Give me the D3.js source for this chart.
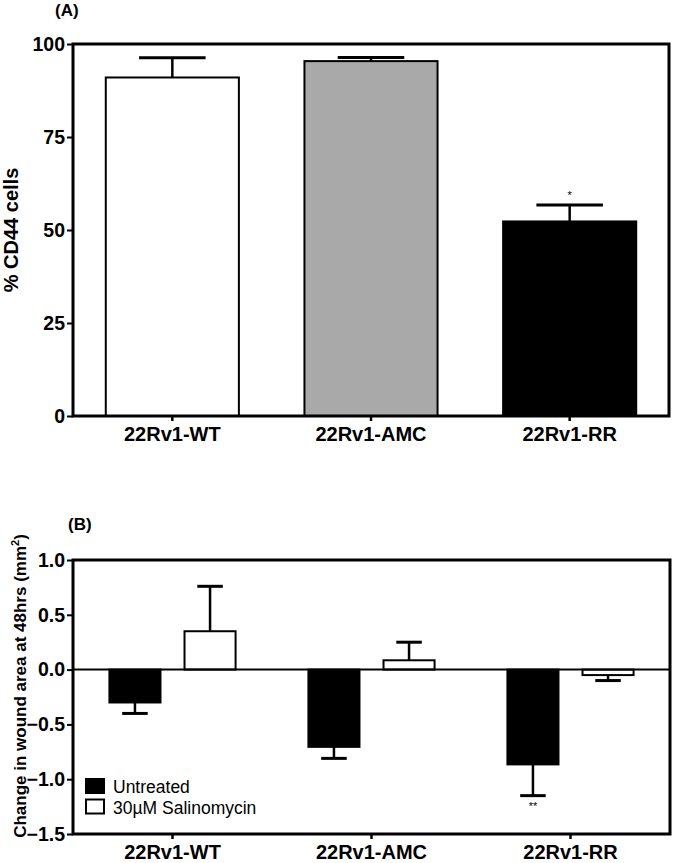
<!DOCTYPE html>
<html>
<head>
<meta charset="utf-8">
<script src="https://cdn.jsdelivr.net/npm/d3@7"></script>
<style>
  html, body { margin: 0; padding: 0; background: #fff; }
  svg { display: block; }
  text { font-family: Arial, "Liberation Sans", sans-serif; fill: #000; }
</style>
</head>
<body>
<svg id="chart" width="675" height="863"></svg>
<script>
// ---------- data ----------
const categories = ["22Rv1-WT", "22Rv1-AMC", "22Rv1-RR"];
const cd44Mean = [91.0, 95.4, 52.3];
const cd44Err = [5.3, 1.0, 4.4];
const cd44Colors = ["#ffffff", "#a9a9a9", "#000000"];
const cd44Ticks = [0, 25, 50, 75, 100];
const cd44Sig = ["", "", "*"];

const series = ["Untreated", "30\u00b5M Salinomycin"];
const seriesColors = ["#000000", "#ffffff"];
const woundUntreated = [-0.30, -0.705, -0.865];
const woundUntreatedErr = [0.10, 0.105, 0.285];
const woundSalino = [0.35, 0.085, -0.05];
const woundSalinoErr = [0.41, 0.165, 0.05];
const woundSig = ["", "", "**"];
const woundTicks = [-1.5, -1.0, -0.5, 0.0, 0.5, 1.0];

const svg = d3.select("#chart");

// ---------- panel A ----------
const A = { left: 73, right: 669, top: 44, bottom: 416 };
const xA = d3.scaleBand().domain(categories).range([A.left, A.right])
  .paddingInner(0.33).paddingOuter(0.165);
const yA = d3.scaleLinear().domain([0, 100]).range([A.bottom, A.top]);

const gA = svg.append("g");
gA.append("text").attr("x", 55).attr("y", 16).attr("font-size", 17)
  .attr("font-weight", "bold").text("(A)");

// bars
gA.selectAll("rect.bar").data(categories).enter().append("rect")
  .attr("x", d => xA(d))
  .attr("width", xA.bandwidth())
  .attr("y", (d, i) => yA(cd44Mean[i]))
  .attr("height", (d, i) => yA(0) - yA(cd44Mean[i]))
  .attr("fill", (d, i) => cd44Colors[i])
  .attr("stroke", "#000").attr("stroke-width", 2);

// error bars
categories.forEach((c, i) => {
  const cx = xA(c) + xA.bandwidth() / 2;
  const half = xA.bandwidth() / 4;
  gA.append("line").attr("x1", cx).attr("x2", cx)
    .attr("y1", yA(cd44Mean[i])).attr("y2", yA(cd44Mean[i] + cd44Err[i]))
    .attr("stroke", "#000").attr("stroke-width", 2.5);
  gA.append("line").attr("x1", cx - half).attr("x2", cx + half)
    .attr("y1", yA(cd44Mean[i] + cd44Err[i])).attr("y2", yA(cd44Mean[i] + cd44Err[i]))
    .attr("stroke", "#000").attr("stroke-width", 3);
  if (cd44Sig[i]) {
    gA.append("text").attr("x", cx).attr("y", yA(cd44Mean[i] + cd44Err[i]) - 6)
      .attr("text-anchor", "middle").attr("font-size", 11).text(cd44Sig[i]);
  }
});

// frame
gA.append("rect").attr("x", A.left).attr("y", A.top)
  .attr("width", A.right - A.left).attr("height", A.bottom - A.top)
  .attr("fill", "none").attr("stroke", "#000").attr("stroke-width", 3);

// axes
const axA = gA.append("g").attr("transform", `translate(${A.left},0)`)
  .call(d3.axisLeft(yA).tickValues(cd44Ticks).tickSize(6).tickPadding(2));
const axAB = gA.append("g").attr("transform", `translate(0,${A.bottom})`)
  .call(d3.axisBottom(xA).tickSize(5).tickPadding(2));

gA.append("text")
  .attr("transform", `translate(18,${(A.top + A.bottom) / 2}) rotate(-90)`)
  .attr("text-anchor", "middle").attr("font-size", 20).attr("font-weight", "bold")
  .text("% CD44 cells");

// ---------- panel B ----------
const B = { left: 73, right: 670, top: 560, bottom: 834 };
const x0 = d3.scaleBand().domain(categories).range([B.left, B.right])
  .paddingInner(0.366).paddingOuter(0.183);
const x1 = d3.scaleBand().domain(series).range([0, x0.bandwidth()]).paddingInner(0.32);
const yB = d3.scaleLinear().domain([-1.5, 1.0]).range([B.bottom, B.top]);

const gB = svg.append("g");
gB.append("text").attr("x", 68).attr("y", 530).attr("font-size", 17)
  .attr("font-weight", "bold").text("(B)");

const woundVals = [woundUntreated, woundSalino];
const woundErrs = [woundUntreatedErr, woundSalinoErr];

series.forEach((s, si) => {
  categories.forEach((c, i) => {
    const v = woundVals[si][i], e = woundErrs[si][i];
    const bx = x0(c) + x1(s);
    gB.append("rect")
      .attr("x", bx).attr("width", x1.bandwidth())
      .attr("y", yB(Math.max(0, v)))
      .attr("height", Math.abs(yB(v) - yB(0)))
      .attr("fill", seriesColors[si])
      .attr("stroke", "#000").attr("stroke-width", 2);
    const cx = bx + x1.bandwidth() / 2;
    const end = v >= 0 ? v + e : v - e;
    const half = x1.bandwidth() / 4;
    gB.append("line").attr("x1", cx).attr("x2", cx)
      .attr("y1", yB(v)).attr("y2", yB(end))
      .attr("stroke", "#000").attr("stroke-width", 2.5);
    gB.append("line").attr("x1", cx - half).attr("x2", cx + half)
      .attr("y1", yB(end)).attr("y2", yB(end))
      .attr("stroke", "#000").attr("stroke-width", 3);
    if (si === 0 && woundSig[i]) {
      gB.append("text").attr("x", cx).attr("y", yB(end) + 14)
        .attr("text-anchor", "middle").attr("font-size", 11).text(woundSig[i]);
    }
  });
});

// zero line
gB.append("line").attr("x1", B.left).attr("x2", B.right)
  .attr("y1", yB(0)).attr("y2", yB(0))
  .attr("stroke", "#000").attr("stroke-width", 2);

// frame
gB.append("rect").attr("x", B.left).attr("y", B.top)
  .attr("width", B.right - B.left).attr("height", B.bottom - B.top)
  .attr("fill", "none").attr("stroke", "#000").attr("stroke-width", 3);

const axB = gB.append("g").attr("transform", `translate(${B.left},0)`)
  .call(d3.axisLeft(yB).tickValues(woundTicks).tickFormat(d3.format(".1f")).tickSize(6).tickPadding(2));
const axBB = gB.append("g").attr("transform", `translate(0,${B.bottom})`)
  .call(d3.axisBottom(x0).tickSize(5).tickPadding(2));

// axis styling
[axA, axB].forEach(ax => {
  ax.select(".domain").remove();
  ax.selectAll(".tick line").attr("stroke", "#000").attr("stroke-width", 2);
  ax.selectAll(".tick text").attr("font-size", 19.5).attr("font-weight", "bold")
    .attr("font-family", "Arial, 'Liberation Sans', sans-serif").attr("fill", "#000");
});
[axAB, axBB].forEach(ax => {
  ax.select(".domain").remove();
  ax.selectAll(".tick line").attr("stroke", "#000").attr("stroke-width", 2.5);
  ax.selectAll(".tick text").attr("font-size", 20).attr("font-weight", "bold")
    .attr("font-family", "Arial, 'Liberation Sans', sans-serif").attr("fill", "#000")
    .attr("y", 25).attr("dy", 0);
});

// legend
const leg = gB.append("g");
series.forEach((s, si) => {
  const ly = 779 + si * 20.5;
  leg.append("rect").attr("x", 86).attr("y", ly).attr("width", 18).attr("height", 14)
    .attr("fill", seriesColors[si]).attr("stroke", "#000").attr("stroke-width", 2);
  leg.append("text").attr("x", 113).attr("y", ly + 14).attr("font-size", 17.5).text(s);
});

// y label
const yl = gB.append("text")
  .attr("transform", `translate(26,686) rotate(-90)`)
  .attr("text-anchor", "middle").attr("font-size", 17).attr("font-weight", "bold");
yl.append("tspan").text("Change in wound area at 48hrs (mm");
yl.append("tspan").attr("font-size", 11).attr("dy", -7).text("2");
yl.append("tspan").attr("dy", 7).text(")");
</script>
</body>
</html>
